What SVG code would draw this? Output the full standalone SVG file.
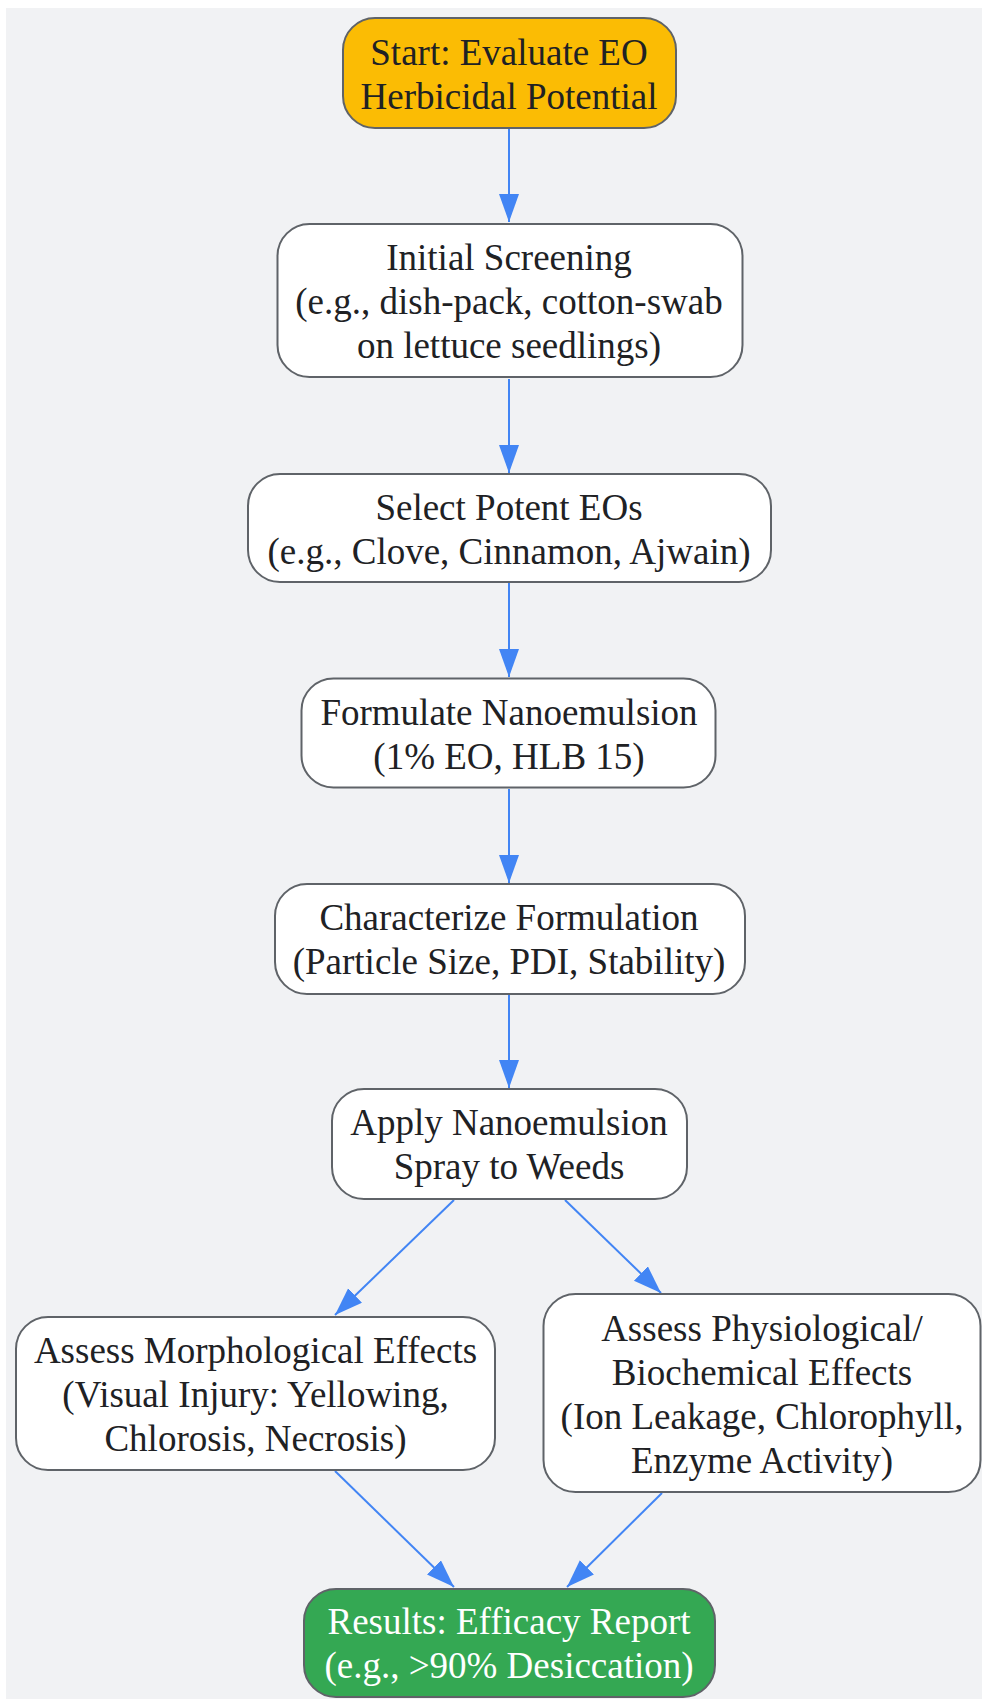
<svg xmlns="http://www.w3.org/2000/svg" width="982" height="1699" viewBox="0 0 982 1699">
<defs>
<style>
.node rect{fill:#ffffff;stroke:#5f6368;stroke-width:2}
.node text{font-family:"Liberation Serif","Times New Roman",serif;font-size:37px;fill:#202124;text-anchor:middle;dominant-baseline:central}
#start rect{fill:#fbbc04}
#results rect{fill:#34a853}
#results text{fill:#ffffff}
.edges line{stroke:#4285f4;stroke-width:2;fill:none}
</style>
<marker id="arr" markerUnits="userSpaceOnUse" markerWidth="30" markerHeight="22" refX="28" refY="10" orient="auto">
<path d="M0,0 L28,10 L0,20 z" fill="#4285f4"/>
</marker>
</defs>
<rect x="6" y="8" width="976" height="1691" fill="#f1f2f4"/>
<g class="edges">
<line x1="509" y1="129" x2="509" y2="222" marker-end="url(#arr)"/>
<line x1="509" y1="379" x2="509" y2="473" marker-end="url(#arr)"/>
<line x1="509" y1="583" x2="509" y2="677" marker-end="url(#arr)"/>
<line x1="509" y1="789" x2="509" y2="883" marker-end="url(#arr)"/>
<line x1="509" y1="995" x2="509" y2="1088" marker-end="url(#arr)"/>
<line x1="454" y1="1200" x2="335" y2="1315" marker-end="url(#arr)"/>
<line x1="565" y1="1200" x2="661" y2="1293" marker-end="url(#arr)"/>
<line x1="335" y1="1471" x2="454" y2="1587" marker-end="url(#arr)"/>
<line x1="662" y1="1493" x2="567" y2="1587" marker-end="url(#arr)"/>
</g>
<g id="start" class="node">
<rect x="343" y="18" width="333" height="110" rx="32"/>
<text x="509" y="52">Start: Evaluate EO</text>
<text x="509" y="96">Herbicidal Potential</text>
</g>
<g id="screening" class="node">
<rect x="277.5" y="224" width="465" height="153" rx="32"/>
<text x="509" y="257">Initial Screening</text>
<text x="509" y="301">(e.g., dish-pack, cotton-swab</text>
<text x="509" y="345">on lettuce seedlings)</text>
</g>
<g id="select" class="node">
<rect x="248" y="474" width="523" height="108" rx="32"/>
<text x="509" y="507">Select Potent EOs</text>
<text x="509" y="551">(e.g., Clove, Cinnamon, Ajwain)</text>
</g>
<g id="formulate" class="node">
<rect x="301.5" y="678.5" width="414" height="109" rx="32"/>
<text x="509" y="712">Formulate Nanoemulsion</text>
<text x="509" y="756">(1% EO, HLB 15)</text>
</g>
<g id="characterize" class="node">
<rect x="275" y="884" width="470" height="110" rx="32"/>
<text x="509" y="917">Characterize Formulation</text>
<text x="509" y="961">(Particle Size, PDI, Stability)</text>
</g>
<g id="apply" class="node">
<rect x="332" y="1089" width="355" height="110" rx="32"/>
<text x="509" y="1122">Apply Nanoemulsion</text>
<text x="509" y="1166">Spray to Weeds</text>
</g>
<g id="morph" class="node">
<rect x="16" y="1317" width="479" height="153" rx="32"/>
<text x="255.5" y="1350">Assess Morphological Effects</text>
<text x="255.5" y="1394">(Visual Injury: Yellowing,</text>
<text x="255.5" y="1438">Chlorosis, Necrosis)</text>
</g>
<g id="physio" class="node">
<rect x="543.5" y="1294" width="437" height="198" rx="32"/>
<text x="762" y="1328">Assess Physiological/</text>
<text x="762" y="1372">Biochemical Effects</text>
<text x="762" y="1416">(Ion Leakage, Chlorophyll,</text>
<text x="762" y="1460">Enzyme Activity)</text>
</g>
<g id="results" class="node">
<rect x="304" y="1589" width="411" height="108" rx="32"/>
<text x="509" y="1621">Results: Efficacy Report</text>
<text x="509" y="1665">(e.g., &gt;90% Desiccation)</text>
</g>
</svg>
